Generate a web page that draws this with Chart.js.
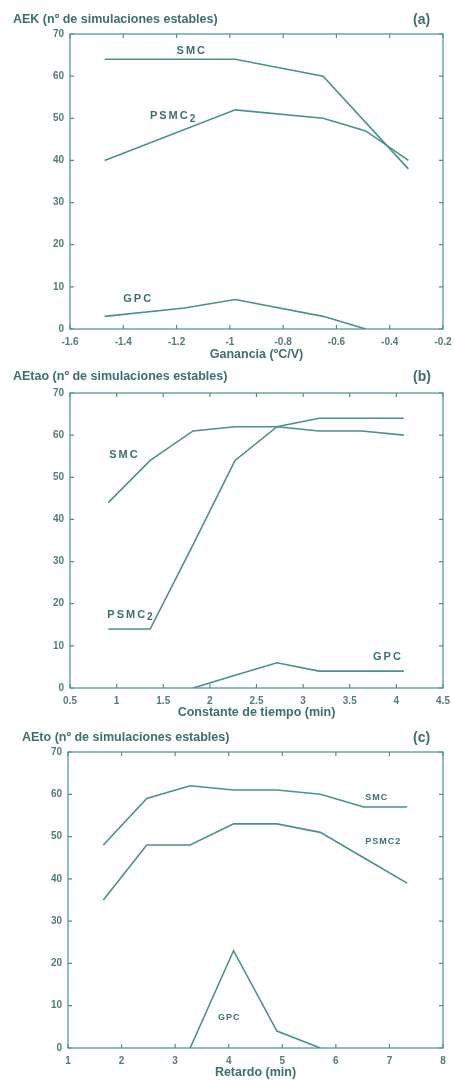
<!DOCTYPE html>
<html>
<head>
<meta charset="utf-8">
<script src="https://cdn.jsdelivr.net/npm/chart.js@4"></script>
<style>
  body { margin: 0; background: #fff; }
  .panel { position: absolute; left: 0; width: 454px; }
</style>
</head>
<body>
<div class="panel" style="top:0;height:362px"><canvas id="chartA"></canvas></div>
<div class="panel" style="top:362px;height:358px"><canvas id="chartB"></canvas></div>
<div class="panel" style="top:720px;height:362px"><canvas id="chartC"></canvas></div>
<script>
// ---------- (a) Ganancia ----------
const gainX = [-1.47, -1.17, -0.98, -0.65, -0.49, -0.33];
const gainSMC = [64, 64, 64, 60, null, 38];
const gainPSMC = [40, null, 52, 50, 47, 40];
const gainGPC = [3, 5, 7, 3, 0, null];

// ---------- (b) Constante de tiempo ----------
const tauX = [0.91, 1.36, 1.82, 2.27, 2.72, 3.17, 3.63, 4.08];
const tauSMC = [44, 54, 61, 62, 62, 61, 61, 60];
const tauPSMC = [14, 14, 34, 54, 62, 64, 64, 64];
const tauGPC = [null, null, 0, 3, 6, 4, 4, 4];

// ---------- (c) Retardo ----------
const delayX = [1.66, 2.47, 3.28, 4.09, 4.9, 5.71, 6.52, 7.33];
const delaySMC = [48, 59, 62, 61, 61, 60, 57, 57];
const delayPSMC = [35, 48, 48, 53, 53, 51, 45, 39];
const delayGPC = [null, null, 0, 23, 4, 0, null, null];

const LINE = '#4a9090';
const TEXT = '#3d6f6f';
const TICK = '#557a7a';
const FONT = "'Liberation Sans', Arial, sans-serif";

// marco + marcas hacia dentro en los cuatro lados
const framePlugin = {
  id: 'frame',
  afterDraw(chart) {
    const { ctx, chartArea: a, scales } = chart;
    ctx.save();
    ctx.strokeStyle = LINE;
    ctx.lineWidth = 1.2;
    ctx.strokeRect(a.left, a.top, a.right - a.left, a.bottom - a.top);
    ctx.beginPath();
    scales.x.ticks.forEach(t => {
      const px = scales.x.getPixelForValue(t.value);
      ctx.moveTo(px, a.bottom); ctx.lineTo(px, a.bottom - 4);
      ctx.moveTo(px, a.top); ctx.lineTo(px, a.top + 4);
    });
    scales.y.ticks.forEach(t => {
      const py = scales.y.getPixelForValue(t.value);
      ctx.moveTo(a.left, py); ctx.lineTo(a.left + 4, py);
      ctx.moveTo(a.right, py); ctx.lineTo(a.right - 4, py);
    });
    ctx.stroke();
    ctx.restore();
  }
};

// titulo, letra del panel y nombres de las curvas
const labelPlugin = {
  id: 'labels',
  afterDraw(chart, args, opts) {
    const { ctx, scales } = chart;
    ctx.save();
    ctx.fillStyle = TEXT;
    ctx.textBaseline = 'middle';
    ctx.font = `bold 12.5px ${FONT}`;
    ctx.textAlign = 'left';
    ctx.fillText(opts.title, opts.titleX, opts.titleY);
    ctx.font = `bold 14px ${FONT}`;
    ctx.fillText(opts.tag, 413, opts.titleY);
    (opts.names || []).forEach(n => {
      const size = n.size || 11;
      ctx.font = `bold ${size}px ${FONT}`;
      ctx.letterSpacing = (n.gap || 2) + 'px';
      const x = scales.x.getPixelForValue(n.x);
      const y = scales.y.getPixelForValue(n.y);
      ctx.fillText(n.text, x, y);
      if (n.sub) {
        const w = ctx.measureText(n.text).width;
        ctx.font = `bold ${size - 1}px ${FONT}`;
        ctx.fillText(n.sub, x + w, y + 3);
      }
    });
    ctx.restore();
  }
};

function ds(data, label) {
  return {
    label, data,
    borderColor: LINE, borderWidth: 1.6,
    pointRadius: 0, tension: 0, spanGaps: true, fill: false
  };
}

function makeChart(id, xs, series, cfg) {
  const points = s => xs.map((x, i) => ({ x, y: s[i] })).filter(p => p.y !== null);
  return new Chart(document.getElementById(id), {
    type: 'line',
    data: {
      datasets: [
        ds(points(series[0]), 'SMC'),
        ds(points(series[1]), 'PSMC2'),
        ds(points(series[2]), 'GPC')
      ]
    },
    options: {
      responsive: true,
      maintainAspectRatio: false,
      animation: false,
      events: [],
      layout: { padding: { top: cfg.top, right: 11, left: 0, bottom: 0 } },
      plugins: {
        legend: { display: false },
        tooltip: { enabled: false },
        labels: cfg.labels
      },
      scales: {
        x: {
          type: 'linear',
          min: cfg.xmin, max: cfg.xmax,
          afterFit: s => { s.height = cfg.xh; s.paddingLeft = 0; s.paddingRight = 0; },
          afterBuildTicks: s => { s.ticks = cfg.xticks.map(v => ({ value: v })); },
          grid: { display: false, drawTicks: false },
          border: { display: false },
          ticks: {
            color: TICK, padding: 7,
            font: { family: FONT, size: 10, weight: 'bold' },
            maxRotation: 0, autoSkip: false,
            callback: v => String(v)
          },
          title: {
            display: true, text: cfg.xtitle, color: TEXT,
            font: { family: FONT, size: 12.5, weight: 'bold' },
            padding: { top: 0, bottom: cfg.titlePad }
          }
        },
        y: {
          min: 0, max: 70,
          afterFit: s => { s.width = cfg.left; },
          ticks: {
            stepSize: 10, color: TICK, padding: 6,
            font: { family: FONT, size: 10, weight: 'bold' }
          },
          grid: { display: false, drawTicks: false },
          border: { display: false }
        }
      }
    },
    plugins: [framePlugin, labelPlugin]
  });
}

makeChart('chartA', gainX, [gainSMC, gainPSMC, gainGPC], {
  top: 34, xh: 33, left: 70, titlePad: 0,
  xmin: -1.6, xmax: -0.2,
  xticks: [-1.6, -1.4, -1.2, -1, -0.8, -0.6, -0.4, -0.2],
  xtitle: 'Ganancia (ºC/V)',
  labels: {
    title: 'AEK (nº de simulaciones estables)', titleX: 13, titleY: 20, tag: '(a)',
    names: [
      { text: 'SMC', x: -1.2, y: 65.9 },
      { text: 'PSMC', sub: '2', x: -1.3, y: 50.6 },
      { text: 'GPC', x: -1.4, y: 7.2 }
    ]
  }
});

makeChart('chartB', tauX, [tauSMC, tauPSMC, tauGPC], {
  top: 31, xh: 32, left: 70, titlePad: 0,
  xmin: 0.5, xmax: 4.5,
  xticks: [0.5, 1, 1.5, 2, 2.5, 3, 3.5, 4, 4.5],
  xtitle: 'Constante de tiempo (min)',
  labels: {
    title: 'AEtao (nº de simulaciones estables)', titleX: 13, titleY: 15, tag: '(b)',
    names: [
      { text: 'SMC', x: 0.92, y: 55.3 },
      { text: 'PSMC', sub: '2', x: 0.9, y: 17.4 },
      { text: 'GPC', x: 3.75, y: 7.4 }
    ]
  }
});

makeChart('chartC', delayX, [delaySMC, delayPSMC, delayGPC], {
  top: 32, xh: 34, left: 68, titlePad: 2,
  xmin: 1, xmax: 8,
  xticks: [1, 2, 3, 4, 5, 6, 7, 8],
  xtitle: 'Retardo (min)',
  labels: {
    title: 'AEto (nº de simulaciones estables)', titleX: 22, titleY: 18, tag: '(c)',
    names: [
      { text: 'SMC', x: 6.55, y: 59.3, size: 9, gap: 1 },
      { text: 'PSMC2', x: 6.55, y: 48.8, size: 9, gap: 1 },
      { text: 'GPC', x: 3.8, y: 7.2, size: 9, gap: 1 }
    ]
  }
});
</script>
</body>
</html>
